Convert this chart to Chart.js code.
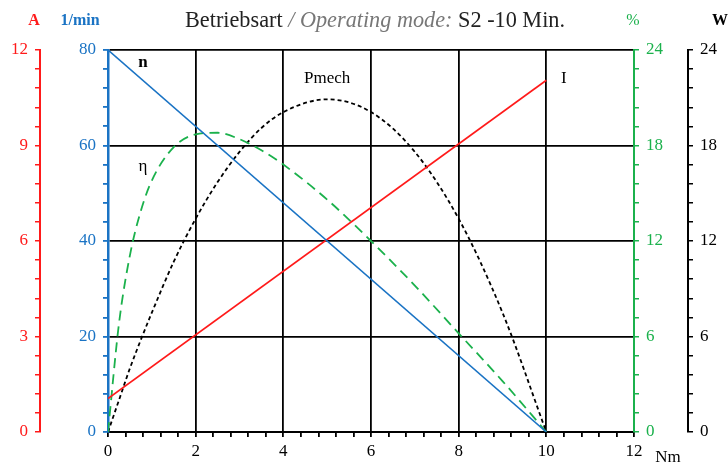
<!DOCTYPE html>
<html>
<head>
<meta charset="utf-8">
<script src="https://cdn.jsdelivr.net/npm/chart.js@4/dist/chart.umd.min.js"></script>
<style>
  html, body { margin: 0; padding: 0; background: #fff; }
  #wrap { width: 728px; height: 463px; }
</style>
</head>
<body>
<div id="wrap"><canvas id="chart1"></canvas></div>
<script>
Chart.defaults.maintainAspectRatio = false;
Chart.defaults.animation = false;
Chart.defaults.plugins.legend.display = false;
Chart.defaults.plugins.tooltip.enabled = false;

const RED = '#ff1a1a';
const BLUE = '#1a73c4';
const GREEN = '#1bb14c';
const SERIF = "'Liberation Serif', 'DejaVu Serif', serif";

// torque (Nm) values
const torque = [0, 0.25, 0.5, 0.75, 1, 1.5, 2, 2.5, 3, 3.5, 4, 5, 6, 7, 8, 9, 10];
// speed n (1/min) and current I (A) are straight lines
const speedTorque = [0, 10];
const speed = [80, 0];
const currentTorque = [0, 10];
const current = [1.05, 11.05];
// efficiency (%) and mechanical power (W), read at the torque points above
const efficiency = [0, 6.8, 11.1, 13.9, 15.8, 17.9, 18.7, 18.8, 18.4, 17.7, 16.8, 14.6, 12.0, 9.2, 6.2, 3.2, 0];
const power = [0, 2.0, 4.0, 5.8, 7.5, 10.7, 13.4, 15.7, 17.6, 19.1, 20.1, 20.9, 20.1, 17.6, 13.4, 7.5, 0];

// curve labels: [text, torque, rpm-scale value, weight]
const curveLabels = [['n', 0.8, 77.3, 'bold'], ['Pmech', 5, 74.1, 'normal'], ['I', 10.4, 74.1, 'normal'], ['\u03b7', 0.8, 55.7, 'normal']];

const pts = (xs, ys) => xs.map((x, i) => ({x: x, y: ys[i]}));
const isMult = (v, m) => Math.abs(v / m - Math.round(v / m)) < 1e-6;

function yAxis(pos, weight, max, step, major, color, width, grid) {
    return {
        type: 'linear', position: pos, weight: weight, min: 0, max: max,
        afterFit: s => { s.width = width; },
        border: {color: color, width: pos === 'left' && weight === 0 ? 2.5 : 2},
        grid: grid || {drawOnChartArea: false, color: color, tickLength: 5, lineWidth: 1.5},
        ticks: {
            stepSize: step, autoSkip: false, color: color, padding: 7,
            font: {family: SERIF, size: 17},
            callback: v => isMult(v, major) ? Math.round(v) : ''
        }
    };
}

const overlay = {
    id: 'overlay',
    afterDraw(chart) {
        const c = chart.ctx, sx = chart.scales.x, sy = chart.scales.yRpm;
        c.save();
        c.textBaseline = 'middle';
        // title with mixed styles
        const parts = [['Betriebsart ', 'normal', '#222'], ['/ Operating mode: ', 'italic', '#777'], ['S2 -10 Min.', 'normal', '#222']];
        let total = 0;
        parts.forEach(p => { c.font = p[1] + ' 24px ' + SERIF; p.push(c.measureText(p[0]).width); total += p[3]; });
        const k = 380 / total;
        c.translate(185, 21);
        c.scale(k, 1);
        let x = 0;
        parts.forEach(p => {
            c.font = p[1] + ' 24px ' + SERIF; c.fillStyle = p[2];
            c.textAlign = 'left'; c.fillText(p[0], x, 0); x += p[3];
        });
        c.setTransform(1, 0, 0, 1, 0, 0);
        // axis unit labels
        c.textAlign = 'center';
        [['A', 34, RED, 'bold'], ['1/min', 80, BLUE, 'bold'], ['%', 633, GREEN, 'normal'], ['W', 720, '#000', 'bold']].forEach(u => {
            c.font = u[3] + ' 16px ' + SERIF;
            c.fillStyle = u[2]; c.fillText(u[0], u[1], 21);
        });
        c.fillStyle = '#000';
        c.font = '17px ' + SERIF;
        c.fillText('Nm', 668, 458);
        // curve labels
        curveLabels.forEach(l => {
            c.font = l[3] + ' 17px ' + SERIF;
            c.fillText(l[0], sx.getPixelForValue(l[1]), sy.getPixelForValue(l[2]));
        });
        c.restore();
    }
};

new Chart('chart1', {
    type: 'line',
    data: {
        datasets: [
            {data: pts(speedTorque, speed), yAxisID: 'yRpm', borderColor: BLUE, borderWidth: 1.6, pointRadius: 0},
            {data: pts(currentTorque, current), yAxisID: 'yA', borderColor: RED, borderWidth: 1.6, pointRadius: 0},
            {data: pts(torque, efficiency), yAxisID: 'yPct', borderColor: GREEN, borderWidth: 1.8, borderDash: [10, 6], pointRadius: 0, cubicInterpolationMode: 'monotone'},
            {data: pts(torque, power), yAxisID: 'yW', borderColor: '#000', borderWidth: 1.8, borderDash: [4, 3], pointRadius: 0, cubicInterpolationMode: 'monotone'}
        ]
    },
    options: {
        layout: {padding: {top: 50, left: 0, right: 0, bottom: 0}},
        scales: {
            x: {
                type: 'linear', min: 0, max: 12,
                afterFit: s => { s.height = 31; },
                border: {color: '#000', width: 2},
                grid: {
                    tickLength: 5, tickColor: '#000', lineWidth: 1.8,
                    color: ctx => (ctx.tick && isMult(ctx.tick.value, 2) && ctx.tick.value > 0 && ctx.tick.value < 12) ? '#000' : 'rgba(0,0,0,0)'
                },
                ticks: {
                    stepSize: 0.4, autoSkip: false, maxRotation: 0, color: '#000', padding: 4,
                    font: {family: SERIF, size: 17},
                    callback: v => isMult(v, 2) ? Math.round(v) : ''
                }
            },
            yA: yAxis('left', 10, 12, 0.6, 3, RED, 40),
            yRpm: yAxis('left', 0, 80, 4, 20, BLUE, 68, {
                tickLength: 5, tickColor: BLUE, lineWidth: 1.8,
                color: ctx => (ctx.tick && isMult(ctx.tick.value, 20) && ctx.tick.value > 0) ? '#000' : 'rgba(0,0,0,0)'
            }),
            yPct: yAxis('right', 0, 24, 1.2, 6, GREEN, 54),
            yW: yAxis('right', 10, 24, 1.2, 6, '#000', 40)
        }
    },
    plugins: [overlay]
});
</script>
</body>
</html>
